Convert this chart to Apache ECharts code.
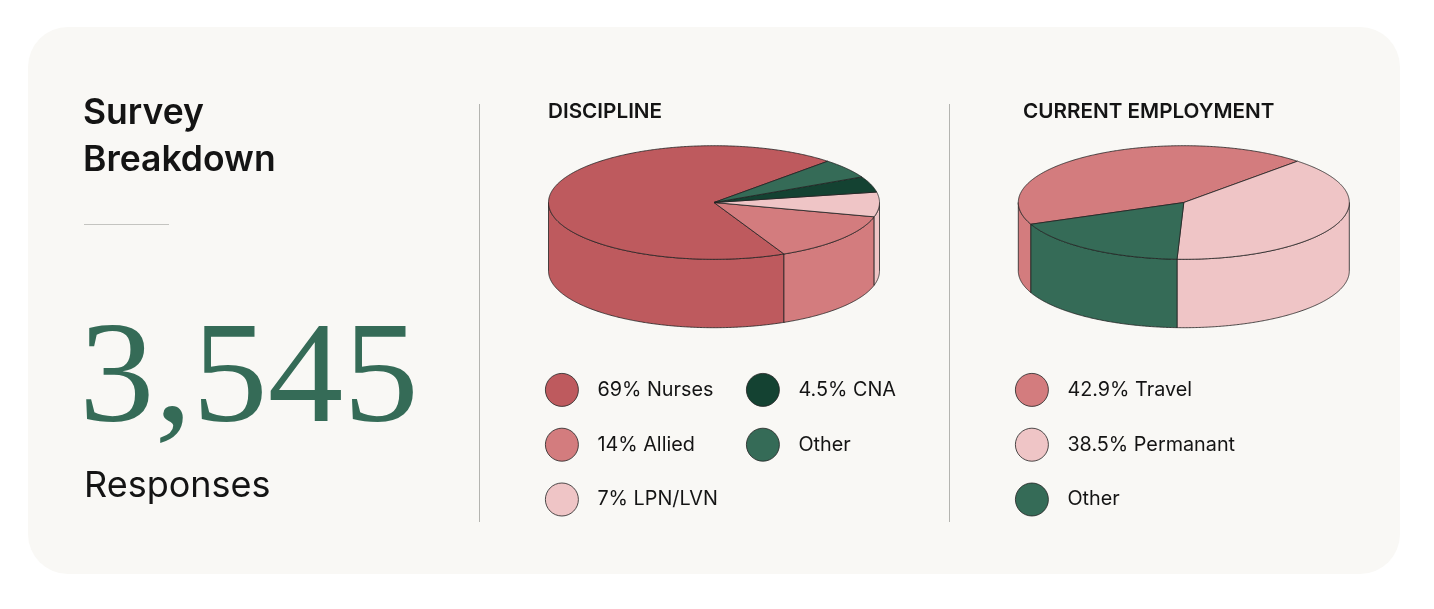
<!DOCTYPE html>
<html>
<head>
<meta charset="utf-8">
<style>html,body{margin:0;padding:0;background:#fff}#c{width:1434px;height:609px}</style>
<script src="https://cdn.jsdelivr.net/npm/echarts@6/dist/echarts.min.js"></script>
</head>
<body>
<div id="c"></div>
<script>
// Data
const disciplineNames = ['69% Nurses', '14% Allied', '7% LPN/LVN', '4.5% CNA', 'Other'];
const disciplineValues = [69, 14, 7, 4.5, 5.5];
const employmentNames = ['42.9% Travel', '38.5% Permanant', 'Other'];
const employmentValues = [43.3, 38.6, 18.1];
const headline = '3,545';
const headlineLabel = 'Responses';
const titleLines = ['Survey', 'Breakdown'];
const panelTitles = ['DISCIPLINE', 'CURRENT EMPLOYMENT'];

// Styles
const disciplineColors = ['#BE5A5E', '#D37C7E', '#EFC5C6', '#144232', '#356B57'];
const employmentColors = ['#D37C7E', '#EFC5C6', '#356B57'];
const EDGE = '#222222', INK = '#141414', GREEN = '#356B57', CARD = '#F9F8F5';
const RX = 165.5, RY = 56.8, DEPTH = 68.4, CY = 202.5;

function arc(cx, cy, a0, a1) {
  const pts = [];
  const n = Math.max(2, Math.ceil(Math.abs(a1 - a0) * 2));
  for (let i = 0; i <= n; i++) {
    const t = (a0 + (a1 - a0) * i / n) * Math.PI / 180;
    pts.push([cx + RX * Math.cos(t), cy - RY * Math.sin(t)]);
  }
  return pts;
}
// visible part of the wall: parameter angles between 180 and 360 (repeated every turn)
function frontRanges(a0, a1) {
  const lo = Math.min(a0, a1), hi = Math.max(a0, a1), out = [];
  for (let k = -1; k <= 2; k++) {
    const s = Math.max(lo, 180 + 360 * k), e = Math.min(hi, 360 + 360 * k);
    if (e > s) out.push([s, e]);
  }
  return out;
}
function sliceSeries(name, color, index, values, cx, start, dir) {
  const total = values.reduce((a, b) => a + b, 0);
  return {
    type: 'custom', name, coordinateSystem: 'none', silent: true, animation: false,
    itemStyle: { color }, data: [values[index]],
    renderItem() {
      const before = values.slice(0, index).reduce((a, b) => a + b, 0);
      const a0 = start + dir * before / total * 360;
      const a1 = start + dir * (before + values[index]) / total * 360;
      const style = { fill: color, stroke: EDGE, lineWidth: 0.8 };
      const children = frontRanges(a0, a1).map(([s, e]) => ({
        type: 'polygon', style,
        shape: { points: arc(cx, CY, s, e).concat(arc(cx, CY + DEPTH, e, s)) }
      }));
      children.push({
        type: 'polygon', style,
        shape: { points: [[cx, CY]].concat(arc(cx, CY, a0, a1)) }
      });
      return { type: 'group', children };
    }
  };
}
function pieSeries(names, values, colors, cx, start, dir) {
  return names.map((n, i) => sliceSeries(n, colors[i], i, values, cx, start, dir));
}
function legend(left, data) {
  return {
    left, top: 373, orient: 'vertical', padding: 0, data, icon: 'circle',
    itemWidth: 33, itemHeight: 33, itemGap: 21, selectedMode: false,
    itemStyle: { borderColor: EDGE, borderWidth: 0.8 },
    textStyle: { fontFamily: 'Inter', fontSize: 19.8, color: INK, padding: [0, 0, 4, 14] }
  };
}
function text(x, y, t, size, weight, fill, family, extra, el) {
  return Object.assign({
    type: 'text', x, y, silent: true,
    style: Object.assign({ text: t, fontSize: size, fontWeight: weight, fill, fontFamily: family || 'Inter' }, extra || {})
  }, el || {});
}
function line(x1, y1, x2, y2, color) {
  return { type: 'line', silent: true, shape: { x1, y1, x2, y2 }, style: { stroke: color, lineWidth: 1 } };
}

const chart = echarts.init(document.getElementById('c'), null, { renderer: 'canvas' });
chart.setOption({
  animation: false,
  backgroundColor: '#ffffff',
  legend: [
    legend(545, disciplineNames.slice(0, 3)),
    legend(746, disciplineNames.slice(3)),
    legend(1015, employmentNames)
  ],
  graphic: [
    { type: 'rect', silent: true, z: -10, shape: { x: 28, y: 27, width: 1372, height: 547, r: 40 }, style: { fill: CARD } },
    line(479.5, 104, 479.5, 522, '#b4b4b0'),
    line(949.5, 104, 949.5, 522, '#b4b4b0'),
    line(84, 224.5, 169, 224.5, '#c4c4c0'),
    text(83, 95, titleLines[0], 35.5, 600, INK),
    text(83, 142, titleLines[1], 35.5, 600, INK),
    text(79, 310, headline, 151, 400, GREEN, 'Liberation Serif', { stroke: CARD, lineWidth: 3 }, { scaleY: 0.96 }),
    text(84, 468, headlineLabel, 36, 400, INK),
    text(548, 101, panelTitles[0], 20.7, 600, INK),
    text(1023, 101, panelTitles[1], 20.7, 600, INK)
  ],
  series: [
    ...pieSeries(disciplineNames, disciplineValues, disciplineColors, 714, 46.6, 1),
    ...pieSeries(employmentNames, employmentValues, employmentColors, 1183.8, 202.5, -1)
  ]
});
</script>
</body>
</html>
